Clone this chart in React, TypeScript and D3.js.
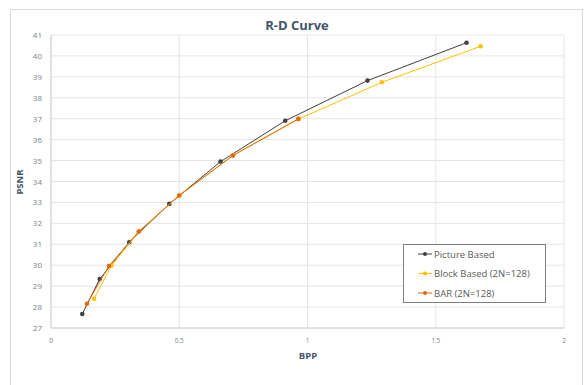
import React from "react";
import * as d3 from "d3";

const pictureX = [0.122, 0.19, 0.305, 0.461, 0.661, 0.913, 1.234, 1.62];
const pictureY = [27.67, 29.34, 31.1, 32.93, 34.95, 36.9, 38.82, 40.63];

const blockX = [0.168, 0.236, 0.344, 0.5, 0.709, 0.966, 1.29, 1.675];
const blockY = [28.4, 29.99, 31.61, 33.33, 35.24, 36.99, 38.74, 40.46];

const barX = [0.14, 0.226, 0.342, 0.5, 0.709, 0.964];
const barY = [28.16, 29.96, 31.61, 33.33, 35.24, 36.99];

const xTicks = [0, 0.5, 1, 1.5, 2];
const xTickLabels = ["0", "0.5", "1", "1.5", "2"];
const yTicks = [27, 28, 29, 30, 31, 32, 33, 34, 35, 36, 37, 38, 39, 40, 41];

const seriesNames = ["Picture Based", "Block Based (2N=128)", "BAR (2N=128)"];
const seriesColors = ["#404040", "#FFC000", "#E2690F"];

const W = 587;
const H = 385;
const margin = { left: 51, right: 23, top: 35, bottom: 57 };

const App = () => {
  const x = d3.scaleLinear().domain([0, 2]).range([margin.left, W - margin.right]);
  const y = d3.scaleLinear().domain([27, 41]).range([H - margin.bottom, margin.top]);

  const series = [
    pictureX.map((v, i) => [v, pictureY[i]]),
    blockX.map((v, i) => [v, blockY[i]]),
    barX.map((v, i) => [v, barY[i]]),
  ];
  const line = d3
    .line<number[]>()
    .x((d) => x(d[0]))
    .y((d) => y(d[1]));

  const font = "'Open Sans', 'Liberation Sans', sans-serif";

  return (
    <svg
      width={W}
      height={H}
      style={{ position: "absolute", left: 0, top: 0, background: "#fff" }}
      fontFamily={font}
    >
      <rect x={10.5} y={9.5} width={572} height={390} fill="#fff" stroke="#d9d9d9" />
      {/* grid */}
      {yTicks.map((t) => (
        <line key={"gy" + t} x1={x(0)} x2={x(2)} y1={y(t)} y2={y(t)} stroke="#e4e4e4" strokeWidth={1} />
      ))}
      {xTicks.map((t) => (
        <line key={"gx" + t} x1={x(t)} x2={x(t)} y1={y(27)} y2={y(41)} stroke="#e4e4e4" strokeWidth={1} />
      ))}
      <line x1={x(0)} x2={x(2)} y1={y(27)} y2={y(27)} stroke="#d0d0d0" />
      <line x1={x(0)} x2={x(0)} y1={y(27)} y2={y(41)} stroke="#d0d0d0" />
      {/* tick labels */}
      {yTicks.map((t) => (
        <text key={"ty" + t} x={42} y={y(t) + 3} textAnchor="end" fontSize={8} fill="#7b8291">
          {t}
        </text>
      ))}
      {xTicks.map((t, i) => (
        <text key={"tx" + t} x={x(t)} y={343} textAnchor="middle" fontSize={6.5} fill="#7b8291">
          {xTickLabels[i]}
        </text>
      ))}
      {/* title and axis titles */}
      <text x={297} y={30} textAnchor="middle" fontSize={13} fontWeight="bold" fill="#44546A">
        R-D Curve
      </text>
      <text x={308} y={359} textAnchor="middle" fontSize={9.5} fontWeight="bold" fill="#44546A">
        BPP
      </text>
      <text
        transform={`translate(23,182) rotate(-90)`}
        textAnchor="middle"
        fontSize={9.5}
        fontWeight="bold"
        fill="#44546A"
      >
        PSNR
      </text>
      {/* series */}
      {series.map((s, i) => (
        <g key={"s" + i}>
          <path d={line(s) || ""} fill="none" stroke={seriesColors[i]} strokeWidth={1} />
          {s.map((d, j) => (
            <circle key={j} cx={x(d[0])} cy={y(d[1])} r={2.3} fill={seriesColors[i]} />
          ))}
        </g>
      ))}
      {/* legend */}
      <rect x={403.5} y={244.5} width={142} height={58} fill="#fff" stroke="#7f7f7f" strokeWidth={1} />
      {seriesNames.map((n, i) => (
        <g key={"l" + i} transform={`translate(0,${254 + i * 19.5})`}>
          <line x1={418} x2={432} y1={0} y2={0} stroke={seriesColors[i]} strokeWidth={1} />
          <circle cx={425} cy={0} r={2} fill={seriesColors[i]} />
          <text x={434} y={3.5} fontSize={9.5} fill="#595959">
            {n}
          </text>
        </g>
      ))}
    </svg>
  );
};

export default App;
